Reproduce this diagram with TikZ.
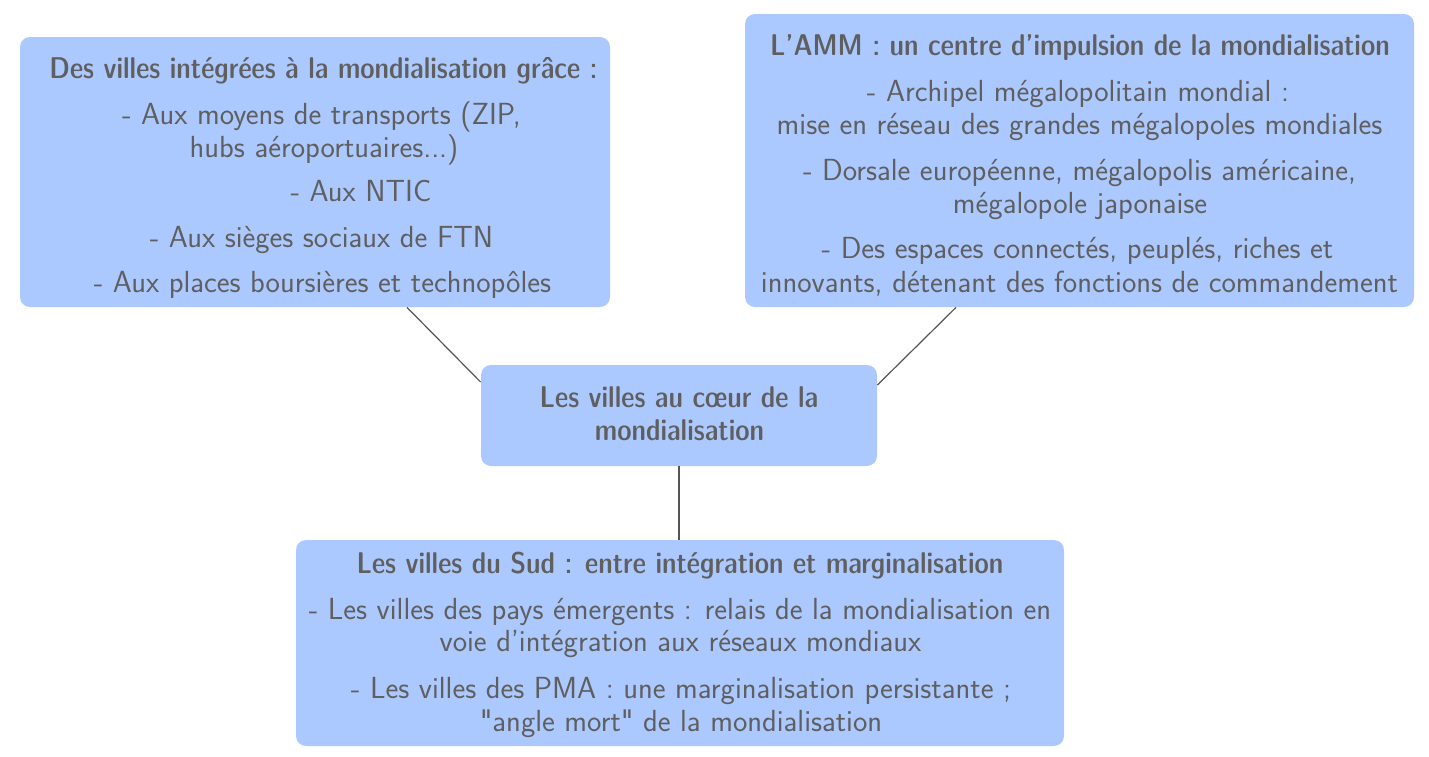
\documentclass[tikz,border=0pt]{standalone}
\usepackage{tikz}
\font\lmssxvii="[lmsans17-regular.otf]" at 15.26pt
\definecolor{boxfill}{RGB}{172,201,255}
\definecolor{txtgray}{RGB}{95,95,95}
\definecolor{linegray}{RGB}{85,85,85}
\tikzset{
  box/.style={fill=boxfill, draw=none, rounded corners=5pt, inner sep=0pt},
  txt/.style={anchor=base, text=txtgray, inner sep=0pt, font=\lmssxvii},
  ttl/.style={anchor=base, text=txtgray, inner sep=0pt, font=\sffamily\fontseries{sbc}\fontsize{15}{18}\selectfont},
  link/.style={draw=linegray, line width=0.6pt}
}
\begin{document}
\begin{tikzpicture}[x=0.5pt,y=-0.5pt]
\useasboundingbox (0,0) rectangle (1429,756);
% boxes
\node[box, minimum width=295pt, minimum height=135pt] (A) at (315,172) {};
\node[box, minimum width=334.5pt, minimum height=146.5pt] (B) at (1079.5,160.5) {};
\node[box, minimum width=198pt, minimum height=50.5pt] (C) at (679,415.5) {};
\node[box, minimum width=384pt, minimum height=103pt] (D) at (680,643) {};
% connectors
\draw[link] ([xshift=46pt]A.south) -- ([yshift=16.75pt]C.west);
\draw[link] ([xshift=-61.75pt]B.south) -- ([yshift=15.25pt]C.east);
\draw[link] (C.south) -- (C.south |- D.north);
% box A text
\node[ttl] (a0) at (323.5,78) {Des villes intégrées à la mondialisation grâce :};
\node[txt] (a1) at (321.5,124) {- Aux moyens de transports (ZIP,};
\node[txt] (a2) at (324,157) {hubs aéroportuaires...)};
\node[txt] (a3) at (361,201) {- Aux NTIC};
\node[txt] (a4) at (321.5,247) {- Aux sièges sociaux de FTN};
\node[txt] (a5) at (322.5,292) {- Aux places boursières et technopôles};
% box B text
\node[ttl] (b0) at (1080,55) {L’AMM : un centre d’impulsion de la mondialisation};
\node[txt] (b1) at (1078,101) {- Archipel mégalopolitain mondial :};
\node[txt] (b2) at (1079.5,134) {mise en réseau des grandes mégalopoles mondiales};
\node[txt] (b3) at (1079.5,180) {- Dorsale européenne, mégalopolis américaine,};
\node[txt] (b4) at (1080,213) {mégalopole japonaise};
\node[txt] (b5) at (1077.5,258) {- Des espaces connectés, peuplés, riches et};
\node[txt] (b6) at (1079.5,292) {innovants, détenant des fonctions de commandement};
% box C text
\node[ttl] (c0) at (679,407) {Les villes au cœur de la};
\node[ttl] (c1) at (679.5,440) {mondialisation};
% box D text
\node[ttl] (d0) at (680,573) {Les villes du Sud : entre intégration et marginalisation};
\node[txt] (d1) at (680,619) {- Les villes des pays émergents : relais de la mondialisation en};
\node[txt] (d2) at (680.5,651) {voie d’intégration aux réseaux mondiaux};
\node[txt] (d3) at (681,698) {- Les villes des PMA : une marginalisation persistante ;};
\node[txt] (d4) at (681,731) {"angle mort" de la mondialisation};
\end{tikzpicture}
\end{document}
